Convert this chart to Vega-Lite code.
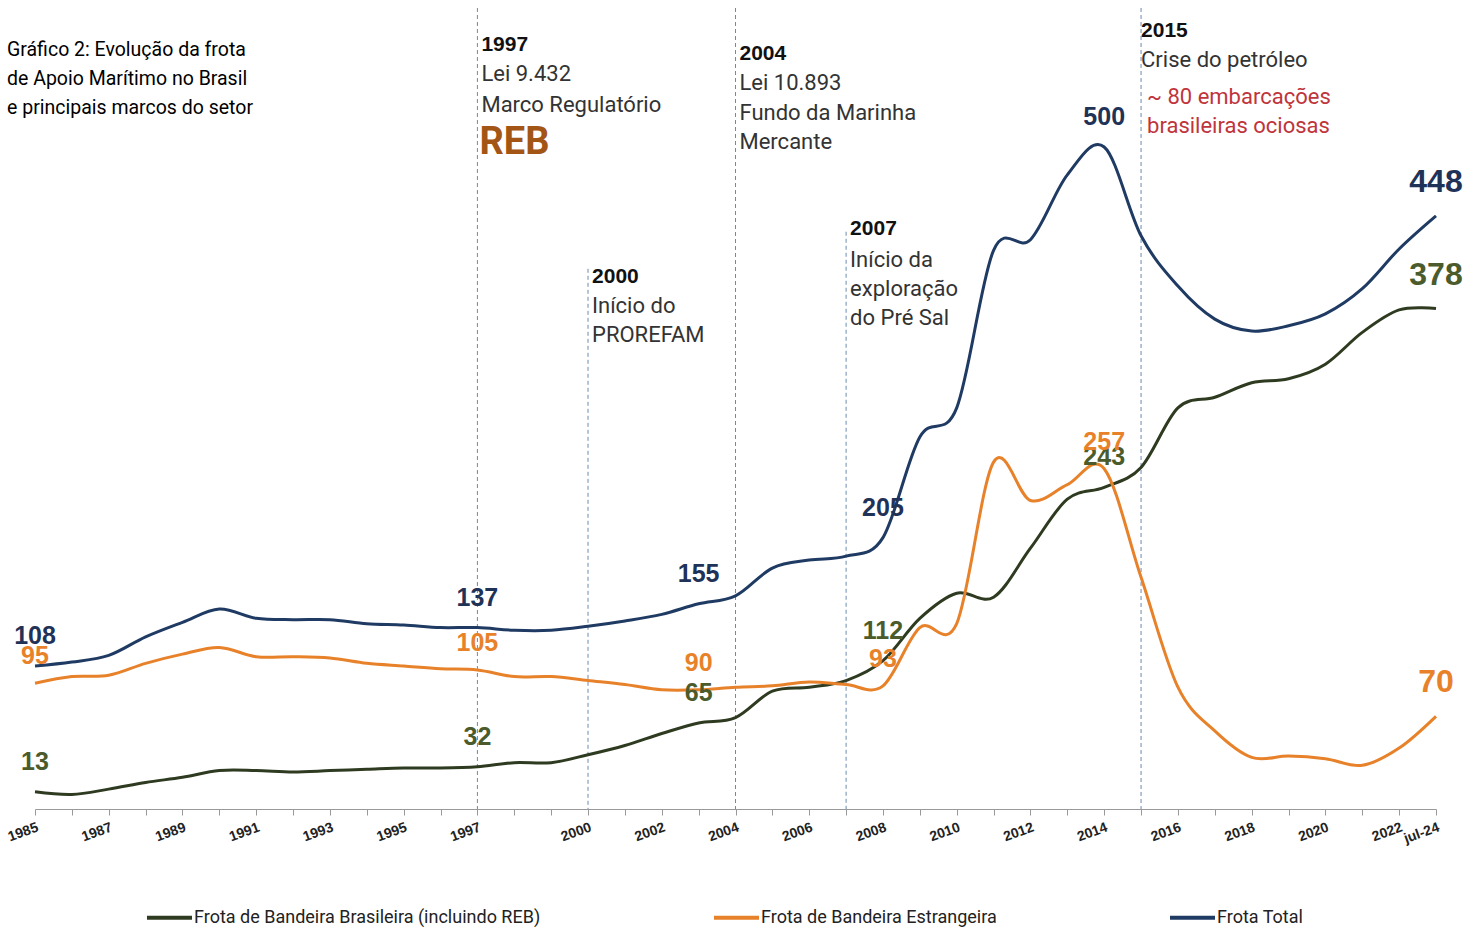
{
  "$schema": "https://vega.github.io/schema/vega-lite/v6.json",
  "width": 1401,
  "height": 801,
  "autosize": "none",
  "padding": {"left": 35, "top": 8, "right": 44, "bottom": 125},
  "background": "white",
  "config": {"view": {"stroke": null}},
  "title": {
    "text": ["Gráfico 2: Evolução da frota", "de Apoio Marítimo no Brasil", "e principais marcos do setor"],
    "anchor": "start",
    "frame": "group",
    "orient": "top",
    "baseline": "top",
    "offset": -111,
    "dx": -28,
    "font": "Roboto",
    "fontSize": 19.5,
    "fontWeight": "normal",
    "lineHeight": 29,
    "color": "#000000"
  },
  "datasets": {
    "fleet": [
      {"year":"1985","series":"Frota de Bandeira Brasileira (incluindo REB)","v":13},{"year":"1985","series":"Frota de Bandeira Estrangeira","v":95},{"year":"1985","series":"Frota Total","v":108},
      {"year":"1986","series":"Frota de Bandeira Brasileira (incluindo REB)","v":11},{"year":"1986","series":"Frota de Bandeira Estrangeira","v":100},{"year":"1986","series":"Frota Total","v":111},
      {"year":"1987","series":"Frota de Bandeira Brasileira (incluindo REB)","v":15},{"year":"1987","series":"Frota de Bandeira Estrangeira","v":101},{"year":"1987","series":"Frota Total","v":116},
      {"year":"1988","series":"Frota de Bandeira Brasileira (incluindo REB)","v":20},{"year":"1988","series":"Frota de Bandeira Estrangeira","v":110},{"year":"1988","series":"Frota Total","v":130},
      {"year":"1989","series":"Frota de Bandeira Brasileira (incluindo REB)","v":24},{"year":"1989","series":"Frota de Bandeira Estrangeira","v":117},{"year":"1989","series":"Frota Total","v":141},
      {"year":"1990","series":"Frota de Bandeira Brasileira (incluindo REB)","v":29},{"year":"1990","series":"Frota de Bandeira Estrangeira","v":122},{"year":"1990","series":"Frota Total","v":151},
      {"year":"1991","series":"Frota de Bandeira Brasileira (incluindo REB)","v":29},{"year":"1991","series":"Frota de Bandeira Estrangeira","v":115},{"year":"1991","series":"Frota Total","v":144},
      {"year":"1992","series":"Frota de Bandeira Brasileira (incluindo REB)","v":28},{"year":"1992","series":"Frota de Bandeira Estrangeira","v":115},{"year":"1992","series":"Frota Total","v":143},
      {"year":"1993","series":"Frota de Bandeira Brasileira (incluindo REB)","v":29},{"year":"1993","series":"Frota de Bandeira Estrangeira","v":114},{"year":"1993","series":"Frota Total","v":143},
      {"year":"1994","series":"Frota de Bandeira Brasileira (incluindo REB)","v":30},{"year":"1994","series":"Frota de Bandeira Estrangeira","v":110},{"year":"1994","series":"Frota Total","v":140},
      {"year":"1995","series":"Frota de Bandeira Brasileira (incluindo REB)","v":31},{"year":"1995","series":"Frota de Bandeira Estrangeira","v":108},{"year":"1995","series":"Frota Total","v":139},
      {"year":"1996","series":"Frota de Bandeira Brasileira (incluindo REB)","v":31},{"year":"1996","series":"Frota de Bandeira Estrangeira","v":106},{"year":"1996","series":"Frota Total","v":137},
      {"year":"1997","series":"Frota de Bandeira Brasileira (incluindo REB)","v":32},{"year":"1997","series":"Frota de Bandeira Estrangeira","v":105},{"year":"1997","series":"Frota Total","v":137},
      {"year":"1998","series":"Frota de Bandeira Brasileira (incluindo REB)","v":35},{"year":"1998","series":"Frota de Bandeira Estrangeira","v":100},{"year":"1998","series":"Frota Total","v":135},
      {"year":"1999","series":"Frota de Bandeira Brasileira (incluindo REB)","v":35},{"year":"1999","series":"Frota de Bandeira Estrangeira","v":100},{"year":"1999","series":"Frota Total","v":135},
      {"year":"2000","series":"Frota de Bandeira Brasileira (incluindo REB)","v":41},{"year":"2000","series":"Frota de Bandeira Estrangeira","v":97},{"year":"2000","series":"Frota Total","v":138},
      {"year":"2001","series":"Frota de Bandeira Brasileira (incluindo REB)","v":48},{"year":"2001","series":"Frota de Bandeira Estrangeira","v":94},{"year":"2001","series":"Frota Total","v":142},
      {"year":"2002","series":"Frota de Bandeira Brasileira (incluindo REB)","v":57},{"year":"2002","series":"Frota de Bandeira Estrangeira","v":90},{"year":"2002","series":"Frota Total","v":147},
      {"year":"2003","series":"Frota de Bandeira Brasileira (incluindo REB)","v":65},{"year":"2003","series":"Frota de Bandeira Estrangeira","v":90},{"year":"2003","series":"Frota Total","v":155},
      {"year":"2004","series":"Frota de Bandeira Brasileira (incluindo REB)","v":69},{"year":"2004","series":"Frota de Bandeira Estrangeira","v":92},{"year":"2004","series":"Frota Total","v":161},
      {"year":"2005","series":"Frota de Bandeira Brasileira (incluindo REB)","v":89},{"year":"2005","series":"Frota de Bandeira Estrangeira","v":93},{"year":"2005","series":"Frota Total","v":182},
      {"year":"2006","series":"Frota de Bandeira Brasileira (incluindo REB)","v":92},{"year":"2006","series":"Frota de Bandeira Estrangeira","v":96},{"year":"2006","series":"Frota Total","v":188},
      {"year":"2007","series":"Frota de Bandeira Brasileira (incluindo REB)","v":97},{"year":"2007","series":"Frota de Bandeira Estrangeira","v":94},{"year":"2007","series":"Frota Total","v":191},
      {"year":"2008","series":"Frota de Bandeira Brasileira (incluindo REB)","v":112},{"year":"2008","series":"Frota de Bandeira Estrangeira","v":93},{"year":"2008","series":"Frota Total","v":205},
      {"year":"2009","series":"Frota de Bandeira Brasileira (incluindo REB)","v":144},{"year":"2009","series":"Frota de Bandeira Estrangeira","v":137},{"year":"2009","series":"Frota Total","v":281},
      {"year":"2010","series":"Frota de Bandeira Brasileira (incluindo REB)","v":163},{"year":"2010","series":"Frota de Bandeira Estrangeira","v":140},{"year":"2010","series":"Frota Total","v":303},
      {"year":"2011","series":"Frota de Bandeira Brasileira (incluindo REB)","v":160},{"year":"2011","series":"Frota de Bandeira Estrangeira","v":262},{"year":"2011","series":"Frota Total","v":422},
      {"year":"2012","series":"Frota de Bandeira Brasileira (incluindo REB)","v":197},{"year":"2012","series":"Frota de Bandeira Estrangeira","v":233},{"year":"2012","series":"Frota Total","v":430},
      {"year":"2013","series":"Frota de Bandeira Brasileira (incluindo REB)","v":234},{"year":"2013","series":"Frota de Bandeira Estrangeira","v":245},{"year":"2013","series":"Frota Total","v":479},
      {"year":"2014","series":"Frota de Bandeira Brasileira (incluindo REB)","v":243},{"year":"2014","series":"Frota de Bandeira Estrangeira","v":257},{"year":"2014","series":"Frota Total","v":500},
      {"year":"2015","series":"Frota de Bandeira Brasileira (incluindo REB)","v":258},{"year":"2015","series":"Frota de Bandeira Estrangeira","v":175},{"year":"2015","series":"Frota Total","v":433},
      {"year":"2016","series":"Frota de Bandeira Brasileira (incluindo REB)","v":303},{"year":"2016","series":"Frota de Bandeira Estrangeira","v":92},{"year":"2016","series":"Frota Total","v":395},
      {"year":"2017","series":"Frota de Bandeira Brasileira (incluindo REB)","v":311},{"year":"2017","series":"Frota de Bandeira Estrangeira","v":59},{"year":"2017","series":"Frota Total","v":370},
      {"year":"2018","series":"Frota de Bandeira Brasileira (incluindo REB)","v":322},{"year":"2018","series":"Frota de Bandeira Estrangeira","v":39},{"year":"2018","series":"Frota Total","v":361},
      {"year":"2019","series":"Frota de Bandeira Brasileira (incluindo REB)","v":325},{"year":"2019","series":"Frota de Bandeira Estrangeira","v":40},{"year":"2019","series":"Frota Total","v":365},
      {"year":"2020","series":"Frota de Bandeira Brasileira (incluindo REB)","v":336},{"year":"2020","series":"Frota de Bandeira Estrangeira","v":38},{"year":"2020","series":"Frota Total","v":374},
      {"year":"2021","series":"Frota de Bandeira Brasileira (incluindo REB)","v":360},{"year":"2021","series":"Frota de Bandeira Estrangeira","v":33},{"year":"2021","series":"Frota Total","v":393},
      {"year":"2022","series":"Frota de Bandeira Brasileira (incluindo REB)","v":377},{"year":"2022","series":"Frota de Bandeira Estrangeira","v":46},{"year":"2022","series":"Frota Total","v":423},
      {"year":"jul-24","series":"Frota de Bandeira Brasileira (incluindo REB)","v":378},{"year":"jul-24","series":"Frota de Bandeira Estrangeira","v":70},{"year":"jul-24","series":"Frota Total","v":448}
    ],
    "milestones": [
      {"year":"1997","v":605},{"year":"2000","v":408},{"year":"2004","v":605},{"year":"2007","v":436},{"year":"2015","v":605}
    ],
    "heads": [
      {"year":"1997","v":577,"t":"1997"},
      {"year":"2000","v":402,"t":"2000"},
      {"year":"2004","v":570,"t":"2004"},
      {"year":"2007","v":438,"t":"2007"}
    ],
    "notes": [
      {"year":"1997","v":555,"t":"Lei 9.432"},
      {"year":"1997","v":532,"t":"Marco Regulatório"},
      {"year":"2000","v":380,"t":"Início do"},
      {"year":"2000","v":358,"t":"PROREFAM"},
      {"year":"2004","v":548,"t":"Lei 10.893"},
      {"year":"2004","v":526,"t":"Fundo da Marinha"},
      {"year":"2004","v":504,"t":"Mercante"},
      {"year":"2007","v":415,"t":"Início da"},
      {"year":"2007","v":393,"t":"exploração"},
      {"year":"2007","v":371,"t":"do Pré Sal"}
    ],
    "crisisHead": [
      {"year":"2015","v":588,"t":"2015"}
    ],
    "crisisNote": [
      {"year":"2015","v":566,"t":"Crise do petróleo"}
    ],
    "reb": [
      {"year":"1997","v":503,"t":"REB"}
    ],
    "idle": [
      {"year":"2015","v":538,"t":"~ 80 embarcações"},
      {"year":"2015","v":516,"t":"brasileiras ociosas"}
    ]
  },
  "encoding": {
    "x": {
      "field": "year",
      "type": "ordinal",
      "scale": {
        "type": "point",
        "padding": 0,
        "domain": ["1985","1986","1987","1988","1989","1990","1991","1992","1993","1994","1995","1996","1997","1998","1999","2000","2001","2002","2003","2004","2005","2006","2007","2008","2009","2010","2011","2012","2013","2014","2015","2016","2017","2018","2019","2020","2021","2022","jul-24"]
      },
      "axis": {
        "title": null,
        "grid": false,
        "labelAngle": -20,
        "labelAlign": "right",
        "labelBaseline": "top",
        "labelFont": "Liberation Sans",
        "labelFontWeight": "bold",
        "labelFontSize": 14,
        "labelColor": "#222222",
        "labelPadding": 5,
        "labelOverlap": false,
        "tickColor": "#999999",
        "tickSize": 6,
        "domainColor": "#999999",
        "labelExpr": "indexof(['1985','1987','1989','1991','1993','1995','1997','2000','2002','2004','2006','2008','2010','2012','2014','2016','2018','2020','2022','jul-24'], datum.value) >= 0 ? datum.label : ''"
      }
    },
    "y": {
      "field": "v",
      "type": "quantitative",
      "scale": {"domain": [0, 605], "nice": false, "zero": true},
      "axis": null
    }
  },
  "layer": [
    {
      "data": {"name": "milestones"},
      "mark": {"type": "rule", "strokeDash": [4, 3], "strokeWidth": 1, "color": "#6a8bb0"},
      "encoding": {"y2": {"datum": 0}}
    },
    {
      "data": {"name": "fleet"},
      "mark": {"type": "line", "interpolate": "cardinal", "strokeWidth": 3},
      "encoding": {
        "color": {
          "field": "series",
          "type": "nominal",
          "scale": {
            "domain": ["Frota de Bandeira Brasileira (incluindo REB)", "Frota de Bandeira Estrangeira", "Frota Total"],
            "range": ["#2e3b20", "#e8822a", "#1f3b63"]
          },
          "legend": {
            "title": null,
            "orient": "none",
            "legendX": 110,
            "legendY": 885,
            "direction": "horizontal",
            "symbolType": "stroke",
            "symbolSize": 2025,
            "symbolStrokeWidth": 4,
            "labelFont": "Roboto",
            "labelFontSize": 18,
            "labelColor": "#222222",
            "labelOffset": 0,
            "labelLimit": 600,
            "columnPadding": 165
          }
        }
      }
    },
    {
      "data": {"name": "fleet"},
      "transform": [{"filter": {"field": "year", "oneOf": ["1985", "1997", "2003", "2008", "2014"]}}, {"filter": {"field": "series", "oneOf": ["Frota de Bandeira Brasileira (incluindo REB)", "Frota Total"]}}],
      "mark": {"type": "text", "font": "Liberation Sans", "fontWeight": "bold", "fontSize": 25, "dy": -30, "baseline": "middle"},
      "encoding": {
        "text": {"field": "v", "type": "quantitative"},
        "color": {
          "field": "series",
          "type": "nominal",
          "scale": {
            "domain": ["Frota de Bandeira Brasileira (incluindo REB)", "Frota de Bandeira Estrangeira", "Frota Total"],
            "range": ["#4b5b2b", "#e8822a", "#1f3257"]
          },
          "legend": null
        }
      }
    },
    {
      "data": {"name": "fleet"},
      "transform": [{"filter": {"field": "year", "oneOf": ["1985", "1997", "2003", "2008", "2014"]}}, {"filter": {"field": "series", "equal": "Frota de Bandeira Estrangeira"}}],
      "mark": {"type": "text", "font": "Liberation Sans", "fontWeight": "bold", "fontSize": 25, "dy": -27, "baseline": "middle", "color": "#e8822a"},
      "encoding": {
        "text": {"field": "v", "type": "quantitative"}
      }
    },
    {
      "data": {"name": "fleet"},
      "transform": [{"filter": {"field": "year", "equal": "jul-24"}}],
      "mark": {"type": "text", "font": "Liberation Sans", "fontWeight": "bold", "fontSize": 32, "dy": -34, "baseline": "middle"},
      "encoding": {
        "text": {"field": "v", "type": "quantitative"},
        "color": {
          "field": "series",
          "type": "nominal",
          "scale": {
            "domain": ["Frota de Bandeira Brasileira (incluindo REB)", "Frota de Bandeira Estrangeira", "Frota Total"],
            "range": ["#4b5b2b", "#e8822a", "#1f3257"]
          },
          "legend": null
        }
      }
    },
    {
      "data": {"name": "heads"},
      "mark": {"type": "text", "align": "left", "baseline": "middle", "dx": 4, "font": "Liberation Sans", "fontWeight": "bold", "fontSize": 21, "color": "#111111"},
      "encoding": {"text": {"field": "t"}}
    },
    {
      "data": {"name": "notes"},
      "mark": {"type": "text", "align": "left", "baseline": "middle", "dx": 4, "font": "Roboto", "fontSize": 22, "color": "#333333"},
      "encoding": {"text": {"field": "t"}}
    },
    {
      "data": {"name": "crisisHead"},
      "mark": {"type": "text", "align": "left", "baseline": "middle", "dx": 0, "font": "Liberation Sans", "fontWeight": "bold", "fontSize": 21, "color": "#111111"},
      "encoding": {"text": {"field": "t"}}
    },
    {
      "data": {"name": "crisisNote"},
      "mark": {"type": "text", "align": "left", "baseline": "middle", "dx": 0, "font": "Roboto", "fontSize": 22, "color": "#333333"},
      "encoding": {"text": {"field": "t"}}
    },
    {
      "data": {"name": "reb"},
      "mark": {"type": "text", "align": "left", "baseline": "middle", "dx": 2, "font": "Roboto", "fontWeight": "bold", "fontSize": 38, "color": "#a35516"},
      "encoding": {"text": {"field": "t"}}
    },
    {
      "data": {"name": "idle"},
      "mark": {"type": "text", "align": "left", "baseline": "middle", "dx": 6, "font": "Roboto", "fontSize": 22, "color": "#c0343c"},
      "encoding": {"text": {"field": "t"}}
    }
  ],
  "resolve": {"scale": {"color": "independent"}}
}
